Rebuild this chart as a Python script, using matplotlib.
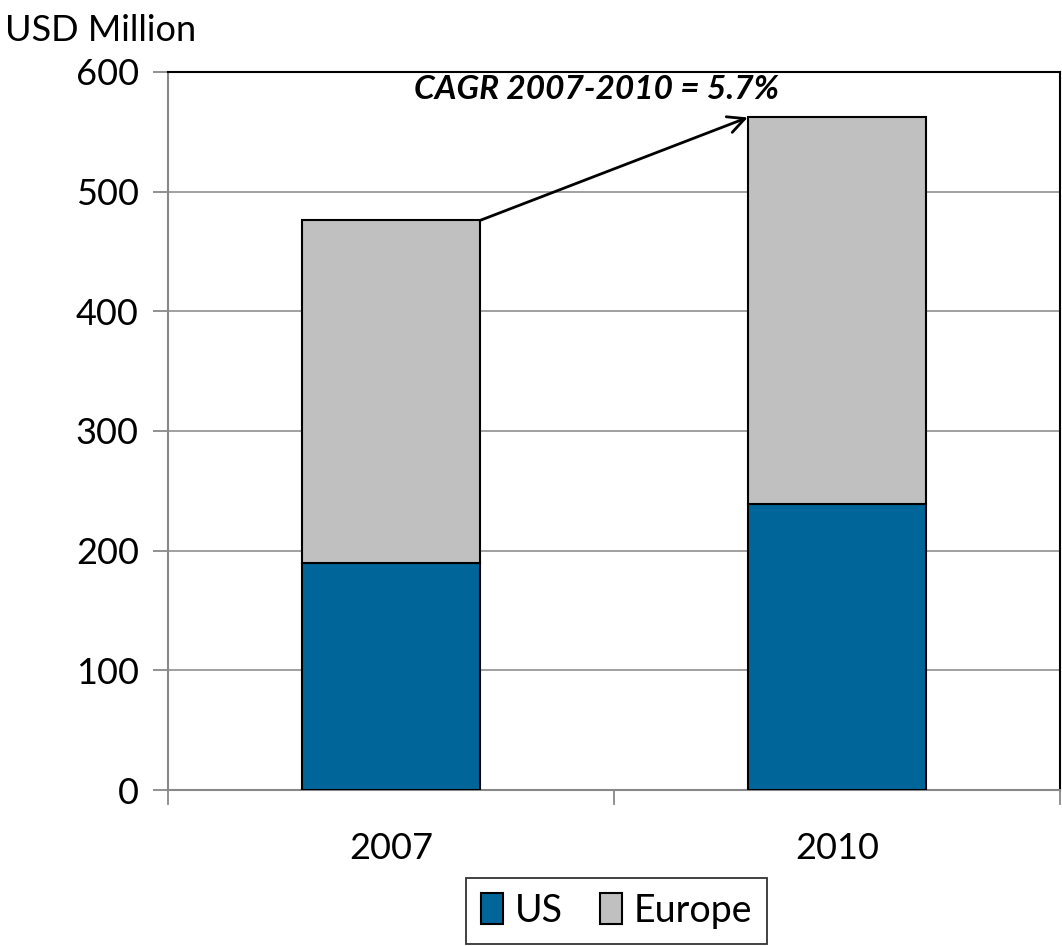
import matplotlib
matplotlib.use("Agg")
import matplotlib.pyplot as plt
import numpy as np

# market size by region, USD million
years = ["2007", "2010"]
us = [190, 239]
europe = [286, 323]
cagr_label = "CAGR 2007-2010 = 5.7%"

plt.rcParams["font.family"] = ["Lato", "DejaVu Sans"]

fig = plt.figure(figsize=(10.62, 9.46), dpi=100)
ax = fig.add_axes([0.1582, 0.1649, 0.8398, 0.759])

x = np.arange(len(years))
w = 0.4
ax.bar(x, us, w, color="#006699", edgecolor="black", lw=1.5, label="US", zorder=3)
ax.bar(x, europe, w, bottom=us, color="#c0c0c0", edgecolor="black", lw=1.5,
       label="Europe", zorder=3)

ax.set_xlim(-0.5, 1.5)
ax.set_ylim(0, 600)
ax.set_yticks(range(0, 601, 100))
ax.yaxis.grid(True, color="#999999", lw=1.3, zorder=0)
ax.set_xticks(x)
ax.set_xticklabels(years, fontsize=26)
ax.tick_params(axis="x", length=0, pad=30)
ax.tick_params(axis="y", labelsize=26, length=11, width=1.3, color="#888888", pad=10)
# category separators below the x axis
for xb in [-0.5, 0.5, 1.5]:
    ax.plot([xb, xb], [0, -0.02], transform=ax.get_xaxis_transform(),
            color="#888888", lw=1.3, clip_on=False)

for s in ["left", "bottom"]:
    ax.spines[s].set_color("#888888")
    ax.spines[s].set_linewidth(1.5)
for s in ["top", "right"]:
    ax.spines[s].set_color("black")
    ax.spines[s].set_linewidth(1.5)

totals = [u + e for u, e in zip(us, europe)]
ax.annotate("", xy=(x[1] - w / 2, totals[1]), xytext=(x[0] + w / 2, totals[0]),
            arrowprops=dict(arrowstyle="->", color="black", lw=2,
                            mutation_scale=30, shrinkA=0, shrinkB=0), zorder=4)
ax.text(0.462, 585, cagr_label, ha="center", va="center", fontsize=24,
        fontweight="bold", fontstyle="italic")

fig.text(0.005, 0.985, "USD Million", fontsize=26, ha="left", va="top")

leg = fig.legend(loc="center", bbox_to_anchor=(0.5805, 0.0375), ncol=2,
                 fontsize=27, frameon=True, fancybox=False, edgecolor="black",
                 handlelength=0.6, handleheight=0.9, handletextpad=0.3,
                 columnspacing=1.0, borderpad=0.4, borderaxespad=0)
leg.get_frame().set_linewidth(1.3)

fig.savefig("out.png", dpi=100)
